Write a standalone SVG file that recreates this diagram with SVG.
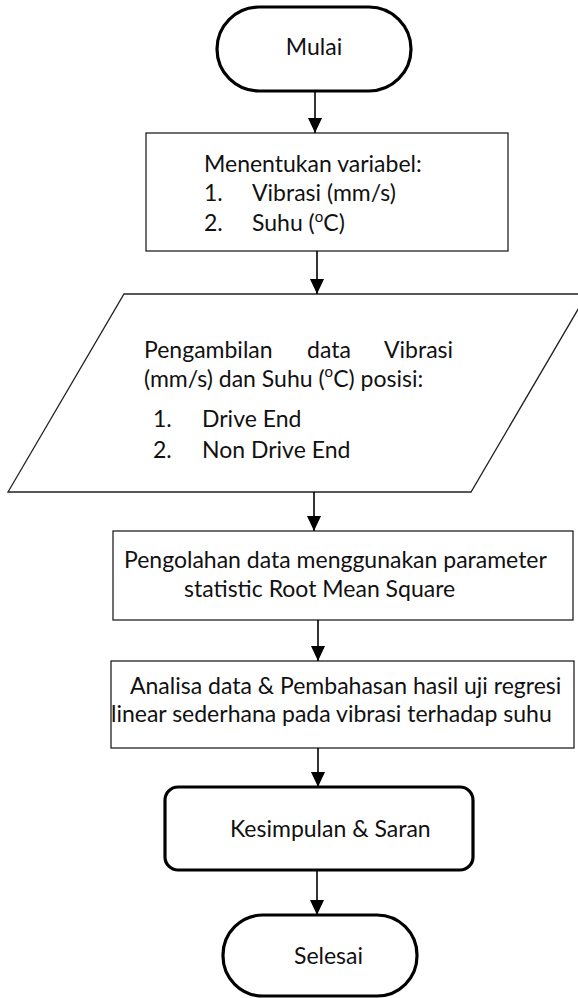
<svg xmlns="http://www.w3.org/2000/svg" width="578" height="998" viewBox="0 0 578 998">
<style>
text{font-family:Lato,"Liberation Sans",sans-serif;font-size:23px;fill:#111}
.thin{fill:#fff;stroke:#222;stroke-width:1.3}
.thick{fill:#fff;stroke:#000;stroke-width:3.2}
.c{text-anchor:middle}
.conn line{stroke:#000;stroke-width:1.6}
</style>
<defs>
<marker id="ah" markerUnits="userSpaceOnUse" markerWidth="16" markerHeight="14" refX="15" refY="7" orient="auto">
<path d="M0,0 L15,7 L0,14 Z" fill="#000"/>
</marker>
</defs>
<g id="mulai">
<rect class="thick" x="217" y="7" width="194" height="84" rx="42"/>
<text class="c" x="314" y="55">Mulai</text>
</g>
<g id="variabel">
<rect class="thin" x="146" y="133" width="362" height="118"/>
<text x="204" y="172">Menentukan variabel:</text>
<text x="204" y="201">1.</text><text x="252" y="201">Vibrasi (mm/s)</text>
<text x="204" y="231">2.</text><text x="252" y="231">Suhu (<tspan font-size="15" dy="-9">o</tspan><tspan dy="9">C)</tspan></text>
</g>
<g id="pengambilan">
<polygon class="thin" points="124,294 587,294 471,492 8,492"/>
<text x="144" y="358">Pengambilan</text><text x="307" y="358">data</text><text x="384" y="358">Vibrasi</text>
<text x="144" y="387">(mm/s) dan Suhu (<tspan font-size="15" dy="-10">o</tspan><tspan dy="10">C) posisi:</tspan></text>
<text x="153" y="427">1.</text><text x="202" y="427">Drive End</text>
<text x="153" y="458">2.</text><text x="202" y="458">Non Drive End</text>
</g>
<g id="pengolahan">
<rect class="thin" x="113" y="531" width="460" height="89"/>
<text x="124" y="568">Pengolahan data menggunakan parameter</text>
<text x="184" y="597">statistic Root Mean Square</text>
</g>
<g id="analisa">
<rect class="thin" x="111" y="661" width="463" height="87"/>
<text x="130" y="694">Analisa data &amp; Pembahasan hasil uji regresi</text>
<text x="111" y="722">linear sederhana pada vibrasi terhadap suhu</text>
</g>
<g id="kesimpulan">
<rect class="thick" x="165" y="787" width="308" height="83" rx="13"/>
<text x="230" y="837">Kesimpulan &amp; Saran</text>
</g>
<g id="selesai">
<rect class="thick" x="223" y="915" width="194" height="81" rx="40"/>
<text x="294" y="964">Selesai</text>
</g>
<g class="conn">
<line x1="315" y1="91" x2="315" y2="133" marker-end="url(#ah)"/>
<line x1="317" y1="251" x2="317" y2="294" marker-end="url(#ah)"/>
<line x1="314" y1="492" x2="314" y2="531" marker-end="url(#ah)"/>
<line x1="318" y1="620" x2="318" y2="661" marker-end="url(#ah)"/>
<line x1="318" y1="748" x2="318" y2="787" marker-end="url(#ah)"/>
<line x1="317" y1="870" x2="317" y2="915" marker-end="url(#ah)"/>
</g>
</svg>
